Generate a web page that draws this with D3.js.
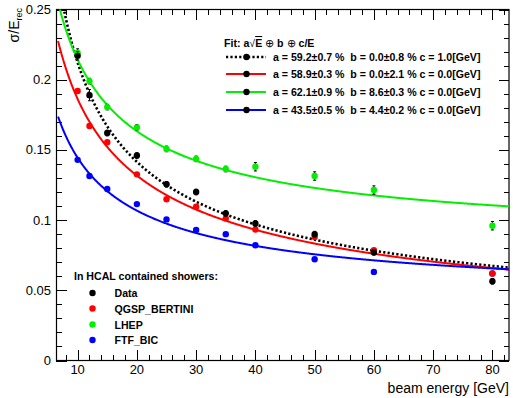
<!DOCTYPE html>
<html><head><meta charset="utf-8">
<script src="https://cdn.jsdelivr.net/npm/d3@7"></script>
<style>body{margin:0;background:#fff}svg{display:block}text{font-family:"Liberation Sans",Arial,sans-serif}</style>
</head><body><svg id="c" width="513" height="398"></svg>
<script>
const energies = [10, 12, 15, 20, 25, 30, 35, 40, 50, 60, 80];
const dataVals  = [0.217, 0.189, 0.162, 0.146, 0.1255, 0.120, 0.1048, 0.0976, 0.090, 0.077, 0.0564];
const dataErr   = [0.003, 0.004, 0.002, 0.002, 0.002, 0.002, 0.002, 0.002, 0.002, 0.002, 0.002];
const qgspVals  = [0.192, 0.167, 0.1555, 0.1326, 0.1148, 0.1095, 0.1012, 0.0933, 0.088, 0.0786, 0.062];
const lhepVals  = [0.219, 0.199, 0.1805, 0.166, 0.1507, 0.1436, 0.1364, 0.138, 0.1314, 0.1214, 0.096];
const lhepErr   = [0.003, 0.002, 0.002, 0.002, 0.002, 0.002, 0.002, 0.003, 0.003, 0.003, 0.003];
const ftfVals   = [0.1429, 0.1314, 0.1221, 0.1114, 0.1005, 0.0929, 0.090, 0.0821, 0.0721, 0.0631, 0.062];
const seriesNames = ["Data", "QGSP_BERTINI", "LHEP", "FTF_BIC"];
const seriesColors = ["#000000", "#ff0000", "#00f000", "#0000ff"];
// fit parameters: sigma/E = a/sqrt(E) (+) b (+) c/E
const fitA = [0.592, 0.589, 0.621, 0.435];
const fitB = [0.000, 0.000, 0.086, 0.044];
const fitC = [1.0, 0.0, 0.0, 0.0];
const fitLabels = [
  "a = 59.2\u00b10.7 %  b = 0.0\u00b10.8 % c = 1.0[GeV]",
  "a = 58.9\u00b10.3 %  b = 0.0\u00b12.1 % c = 0.0[GeV]",
  "a = 62.1\u00b10.9 %  b = 8.6\u00b10.3 % c = 0.0[GeV]",
  "a = 43.5\u00b10.5 %  b = 4.4\u00b10.2 % c = 0.0[GeV]"
];
const xTicks = [10, 20, 30, 40, 50, 60, 70, 80];
const yTicks = [0, 0.05, 0.1, 0.15, 0.2, 0.25];
const yTickLabels = ["0", "0.05", "0.1", "0.15", "0.2", "0.25"];
const xDomain = [6.35, 82.8];
const yDomain = [0, 0.25];
const fitStart = 6.7;

const svg = d3.select("#c");
const L = 56, R = 509, T = 9.5, B = 360.5;
const x = d3.scaleLinear().domain(xDomain).range([L, R]);
const y = d3.scaleLinear().domain(yDomain).range([B, T]);

svg.append("rect").attr("width", 513).attr("height", 398).attr("fill", "#fff");
svg.append("defs").append("clipPath").attr("id", "clip")
  .append("rect").attr("x", L).attr("y", T).attr("width", R - L).attr("height", B - T);

// ticks
const g = svg.append("g").attr("stroke", "#000").attr("stroke-width", 1).attr("shape-rendering", "crispEdges");
const xMinor = d3.range(8, 83, 2);
xMinor.forEach(v => {
  const major = v % 10 === 0;
  const len = major ? 10.5 : 5.5;
  const px = Math.round(x(v)) + 0.5;
  g.append("line").attr("x1", px).attr("x2", px).attr("y1", B).attr("y2", B - len);
  g.append("line").attr("x1", px).attr("x2", px).attr("y1", T).attr("y2", T + len);
});
const yMinor = d3.range(0, 26).map(i => i / 100);
yMinor.forEach((v, i) => {
  const major = i % 5 === 0;
  const len = major ? 10.5 : 5.5;
  const py = Math.round(y(v)) + 0.5;
  g.append("line").attr("x1", L).attr("x2", L + len).attr("y1", py).attr("y2", py);
  g.append("line").attr("x1", R).attr("x2", R - len).attr("y1", py).attr("y2", py);
});
svg.append("rect").attr("x", L + 0.5).attr("y", T).attr("width", R - L - 0.5).attr("height", B - T)
  .attr("fill", "none").attr("stroke", "#000").attr("stroke-width", 1.2);

// tick labels
svg.append("g").selectAll("text").data(xTicks).join("text")
  .attr("x", d => x(d)).attr("y", 374).attr("text-anchor", "middle")
  .attr("font-size", 13).text(d => d);
svg.append("g").selectAll("text").data(yTicks).join("text")
  .attr("x", 51).attr("y", d => y(d) + 4.5).attr("text-anchor", "end")
  .attr("font-size", 13).text((d, i) => yTickLabels[i]);

// axis titles
svg.append("text").attr("x", 509).attr("y", 393).attr("text-anchor", "end")
  .attr("font-size", 14).text("beam energy [GeV]");
const yt = svg.append("text").attr("transform", "translate(19,8) rotate(-90)")
  .attr("text-anchor", "end").attr("font-size", 14);
yt.append("tspan").text("\u03c3/E");
yt.append("tspan").attr("font-size", 9).attr("dy", 3).text("rec");

// fit curves
const plot = svg.append("g").attr("clip-path", "url(#clip)");
const es = d3.range(fitStart, xDomain[1] + 0.1, 0.1);
const line = d3.line().x(d => x(d[0])).y(d => y(d[1]));
fitA.forEach((a, k) => {
  const pts = es.map(e => [e, Math.sqrt(a * a / e + fitB[k] * fitB[k] + (fitC[k] / e) * (fitC[k] / e))]);
  plot.append("path").datum(pts).attr("d", line).attr("fill", "none")
    .attr("stroke", seriesColors[k]).attr("stroke-width", k === 0 ? 2.6 : 2)
    .attr("stroke-dasharray", k === 0 ? "2.2,2.2" : null);
});

// points (draw order: LHEP, FTF, QGSP, Data)
const seriesVals = [dataVals, qgspVals, lhepVals, ftfVals];
const seriesErr = [dataErr, null, lhepErr, null];
[2, 3, 1, 0].forEach(k => {
  const grp = plot.append("g");
  const vals = seriesVals[k];
  if (seriesErr[k]) {
    energies.forEach((e, i) => {
      const er = seriesErr[k][i];
      const px = x(e), y1 = y(vals[i] - er), y2 = y(vals[i] + er);
      grp.append("line").attr("x1", px).attr("x2", px).attr("y1", y1).attr("y2", y2).attr("stroke", "#000").attr("stroke-width", 1);
      grp.append("line").attr("x1", px - 1.5).attr("x2", px + 1.5).attr("y1", y1).attr("y2", y1).attr("stroke", "#000").attr("stroke-width", 1);
      grp.append("line").attr("x1", px - 1.5).attr("x2", px + 1.5).attr("y1", y2).attr("y2", y2).attr("stroke", "#000").attr("stroke-width", 1);
    });
  }
  grp.selectAll("circle").data(energies).join("circle")
    .attr("cx", d => x(d)).attr("cy", (d, i) => y(vals[i])).attr("r", 3.2)
    .attr("fill", seriesColors[k]);
});

// fit legend
const LF = 10.6;
const hdr = svg.append("text").attr("x", 224).attr("y", 47).attr("font-size", LF).attr("font-weight", "bold");
hdr.append("tspan").text("Fit: a");
hdr.append("tspan").attr("font-weight", "normal").text("\u221a");
hdr.append("tspan").attr("text-decoration", "overline").text("E");
hdr.append("tspan").attr("font-weight", "normal").text(" \u2295 ");
hdr.append("tspan").text("b");
hdr.append("tspan").attr("font-weight", "normal").text(" \u2295 ");
hdr.append("tspan").text("c/E");
const rowsY = [57, 74, 92, 110];
fitLabels.forEach((lab, k) => {
  svg.append("line").attr("x1", 226).attr("x2", 266).attr("y1", rowsY[k]).attr("y2", rowsY[k])
    .attr("stroke", seriesColors[k]).attr("stroke-width", k === 0 ? 2.4 : 2)
    .attr("stroke-dasharray", k === 0 ? "2.2,2.2" : null);
  svg.append("circle").attr("cx", 246.5).attr("cy", rowsY[k]).attr("r", 3.2).attr("fill", "#000");
  svg.append("text").attr("x", 273).attr("y", rowsY[k] + 4).attr("font-size", LF).attr("font-weight", "bold")
    .attr("xml:space", "preserve").style("white-space", "pre").text(lab);
});

// sample legend
svg.append("text").attr("x", 74).attr("y", 280).attr("font-size", LF).attr("font-weight", "bold")
  .text("In HCAL contained showers:");
const lyY = [293, 308.5, 324.5, 340];
seriesNames.forEach((n, k) => {
  svg.append("circle").attr("cx", 92.5).attr("cy", lyY[k]).attr("r", 3.2).attr("fill", seriesColors[k]);
  svg.append("text").attr("x", 114.5).attr("y", lyY[k] + 4).attr("font-size", LF).attr("font-weight", "bold").text(n);
});
</script></body></html>
